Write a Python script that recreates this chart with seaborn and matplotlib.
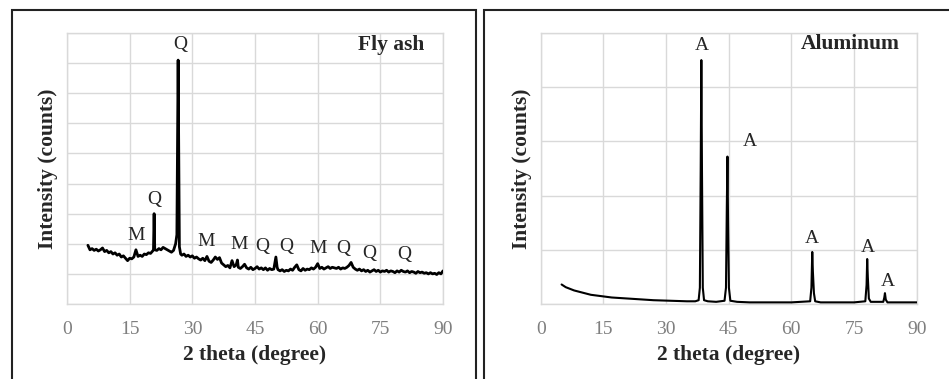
import matplotlib
matplotlib.use("Agg")
import matplotlib.pyplot as plt
import seaborn as sns
import pandas as pd
from matplotlib.patches import Rectangle

# ---------------- data ----------------
fly_x = [5.0, 5.5, 6.0, 6.5, 7.0, 7.5, 8.0, 8.5, 9.0, 9.5, 10.0, 10.5, 11.0, 11.5, 12.0, 12.5,
         13.0, 13.5, 14.0, 14.5, 15.0, 15.5, 16.0, 16.5, 17.0, 17.5, 18.0, 18.5, 19.0, 19.5,
         20.0, 20.5, 20.7, 20.85, 21.0, 21.5, 22.0, 22.5, 23.0, 23.5, 24.0, 24.5, 25.0, 25.5,
         26.0, 26.3, 26.6, 26.9, 27.2, 27.5, 28.0, 28.5, 29.0, 29.5, 30.0, 30.5, 31.0, 31.5,
         32.0, 32.5, 33.0, 33.5, 34.0, 34.5, 35.0, 35.5, 36.0, 36.5, 37.0, 37.5, 38.0, 38.5,
         39.0, 39.5, 40.0, 40.5, 40.8, 41.0, 41.5, 42.0, 42.5, 43.0, 43.5, 44.0, 44.5, 45.0,
         45.5, 46.0, 46.5, 47.0, 47.5, 48.0, 48.5, 49.0, 49.5, 50.0, 50.3, 50.5, 51.0, 51.5,
         52.0, 52.5, 53.0, 53.5, 54.0, 54.5, 55.0, 55.5, 56.0, 56.5, 57.0, 57.5, 58.0, 58.5,
         59.0, 59.5, 60.0, 60.5, 61.0, 61.5, 62.0, 62.5, 63.0, 63.5, 64.0, 64.5, 65.0, 65.5,
         66.0, 66.5, 67.0, 67.5, 68.0, 68.5, 69.0, 69.5, 70.0, 70.5, 71.0, 71.5, 72.0, 72.5,
         73.0, 73.5, 74.0, 74.5, 75.0, 75.5, 76.0, 76.5, 77.0, 77.5, 78.0, 78.5, 79.0, 79.5,
         80.0, 80.5, 81.0, 81.5, 82.0, 82.5, 83.0, 83.5, 84.0, 84.5, 85.0, 85.5, 86.0, 86.5,
         87.0, 87.5, 88.0, 88.5, 89.0, 89.5, 90.0]
fly_y = [1.95, 1.80, 1.84, 1.78, 1.82, 1.76, 1.80, 1.86, 1.74, 1.78, 1.70, 1.74, 1.66, 1.70, 1.62, 1.66,
         1.56, 1.60, 1.52, 1.44, 1.52, 1.50, 1.56, 1.80, 1.58, 1.62, 1.58, 1.66, 1.64, 1.70,
         1.68, 1.76, 1.80, 3.00, 1.80, 1.78, 1.84, 1.80, 1.88, 1.84, 1.80, 1.76, 1.72, 1.78,
         2.00, 2.30, 8.10, 1.90, 1.66, 1.62, 1.66, 1.58, 1.62, 1.56, 1.60, 1.52, 1.56, 1.50,
         1.46, 1.52, 1.44, 1.58, 1.42, 1.38, 1.46, 1.56, 1.48, 1.54, 1.36, 1.30, 1.24, 1.28,
         1.20, 1.44, 1.24, 1.30, 1.46, 1.22, 1.18, 1.24, 1.32, 1.20, 1.16, 1.22, 1.14, 1.18,
         1.24, 1.16, 1.20, 1.14, 1.20, 1.12, 1.18, 1.14, 1.16, 1.56, 1.22, 1.14, 1.10, 1.14,
         1.08, 1.12, 1.10, 1.16, 1.12, 1.22, 1.30, 1.14, 1.10, 1.18, 1.12, 1.16, 1.14, 1.20,
         1.16, 1.22, 1.34, 1.18, 1.22, 1.16, 1.20, 1.24, 1.18, 1.22, 1.20, 1.18, 1.22, 1.16,
         1.20, 1.18, 1.22, 1.28, 1.38, 1.22, 1.16, 1.12, 1.16, 1.10, 1.14, 1.08, 1.12, 1.06,
         1.10, 1.14, 1.08, 1.12, 1.06, 1.10, 1.08, 1.12, 1.06, 1.10, 1.08, 1.04, 1.10, 1.06,
         1.12, 1.08, 1.06, 1.10, 1.04, 1.08, 1.06, 1.02, 1.08, 1.04, 1.06, 1.02, 1.04, 1.00,
         1.04, 1.00, 1.02, 0.98, 1.04, 1.00, 1.10]

al_x = [5.0, 6.0, 7.0, 8.0, 9.0, 10.0, 11.0, 12.0, 13.0, 14.0, 15.0, 17.0, 19.0, 21.0, 23.0,
        25.0, 27.0, 29.0, 31.0, 33.0, 35.0, 37.0, 37.8, 38.1, 38.3, 38.45, 38.6, 38.8, 39.1,
        40.0, 42.0, 44.0, 44.35, 44.55, 44.7, 44.85, 45.05, 45.4, 47.0, 50.0, 55.0, 60.0,
        64.5, 64.8, 65.0, 65.15, 65.4, 65.7, 67.0, 70.0, 75.0, 77.7, 78.0, 78.15, 78.3, 78.55,
        79.0, 82.0, 82.25, 82.4, 82.6, 83.0, 86.0, 90.0]
al_y = [0.36, 0.31, 0.28, 0.25, 0.23, 0.21, 0.19, 0.17, 0.16, 0.15, 0.14, 0.12, 0.11, 0.10, 0.09,
        0.08, 0.07, 0.065, 0.06, 0.055, 0.05, 0.05, 0.07, 0.30, 2.50, 4.50, 2.50, 0.30, 0.07,
        0.05, 0.04, 0.06, 0.30, 1.80, 2.72, 1.50, 0.30, 0.06, 0.04, 0.03, 0.03, 0.03,
        0.05, 0.30, 0.96, 0.60, 0.20, 0.05, 0.03, 0.03, 0.03, 0.05, 0.35, 0.83, 0.50, 0.10,
        0.04, 0.04, 0.12, 0.20, 0.08, 0.03, 0.03, 0.03]

fly_lab_text = ["M", "Q", "Q", "M", "M", "Q", "Q", "M", "Q", "Q", "Q"]
fly_lab_x = [16.5, 21.0, 27.0, 33.4, 41.1, 46.8, 52.5, 60.1, 66.1, 72.3, 80.8]
fly_lab_y = [2.29, 3.46, 8.61, 2.07, 1.96, 1.91, 1.91, 1.85, 1.85, 1.69, 1.66]

al_lab_text = ["A", "A", "A", "A", "A"]
al_lab_x = [38.5, 50.0, 65.0, 78.2, 83.0]
al_lab_y = [4.77, 3.00, 1.20, 1.05, 0.41]

x_ticks = [0, 15, 30, 45, 60, 75, 90]
panel_titles = ["Fly ash", "Aluminum"]
x_label = "2 theta (degree)"
y_label = "Intensity (counts)"

# ---------------- style ----------------
sns.set_theme(style="white")
plt.rcParams["font.family"] = ["Liberation Serif", "DejaVu Serif"]

W, H = 949, 379
fig = plt.figure(figsize=(W / 100, H / 100), dpi=100)

# panel borders (figure coordinates)
for x0, x1 in [(11.5, 476), (484.3, 960)]:
    fig.add_artist(Rectangle((x0 / W, -0.2), (x1 - x0) / W, 1.2 - 10 / H,
                             transform=fig.transFigure, fill=False,
                             edgecolor="#222222", linewidth=1.5))

grid_c = "#d9d9d9"
specs = [
    dict(left=67, x=fly_x, y=fly_y, ymax=9, yticks=list(range(0, 10)),
         lt=fly_lab_text, lx=fly_lab_x, ly=fly_lab_y, title=panel_titles[0],
         tx=77.7, ty=8.6, lw=2.0),
    dict(left=540.7, x=al_x, y=al_y, ymax=5, yticks=list(range(0, 6)),
         lt=al_lab_text, lx=al_lab_x, ly=al_lab_y, title=panel_titles[1],
         tx=74.0, ty=4.8, lw=1.5),
]

for s in specs:
    ax = fig.add_axes([s["left"] / W, 1 - 304 / H, 376 / W, 271 / H])
    df = pd.DataFrame({"x": s["x"], "y": s["y"]})
    sns.lineplot(data=df, x="x", y="y", ax=ax, color="black", linewidth=s["lw"],
                 estimator=None, sort=False, zorder=3)
    ax.set_xlim(0, 90)
    ax.set_ylim(0, s["ymax"])
    ax.set_xticks(x_ticks)
    ax.set_yticks(s["yticks"])
    ax.set_yticklabels([])
    ax.grid(True, color=grid_c, linewidth=1.0)
    ax.set_axisbelow(True)
    for sp in ax.spines.values():
        sp.set_color(grid_c)
        sp.set_linewidth(1.0)
    ax.tick_params(axis="both", length=0)
    ax.tick_params(axis="x", labelsize=14, labelcolor="#7f7f7f", pad=12)
    ax.set_xlabel(x_label, fontsize=15.5, fontweight="bold", labelpad=5)
    ax.set_ylabel(y_label, fontsize=15.5, fontweight="bold", labelpad=3)
    for t, xx, yy in zip(s["lt"], s["lx"], s["ly"]):
        ax.text(xx, yy, t, fontsize=14, ha="center", va="center", zorder=4)
    ax.text(s["tx"], s["ty"], s["title"], fontsize=15.5, fontweight="bold",
            ha="center", va="center", zorder=4)

fig.savefig("out.png", dpi=100)
